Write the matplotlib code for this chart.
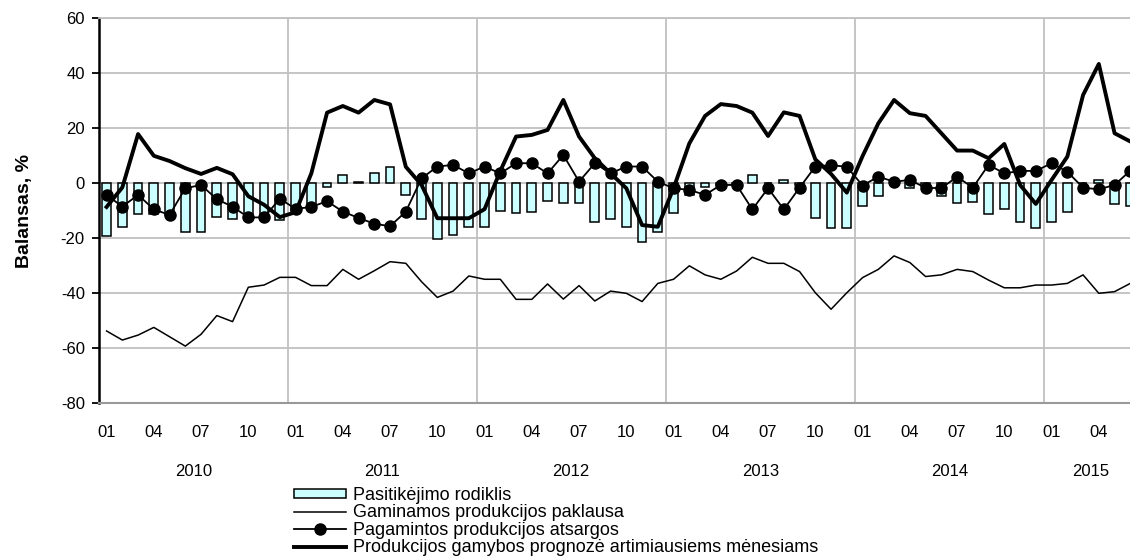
import matplotlib
matplotlib.use('Agg')
import matplotlib.pyplot as plt
import matplotlib.transforms as mtransforms
from matplotlib.lines import Line2D
from matplotlib.patches import Patch
import numpy as np
import pandas as pd

plt.rcParams['font.family'] = ['Liberation Sans', 'DejaVu Sans']
plt.rcParams['axes.unicode_minus'] = False

# monthly categories 2010-01 .. 2015-06
MONTHS = pd.period_range('2010-01', '2015-06', freq='M')
TICK_MONTHS = [1, 4, 7, 10]

# Pasitikėjimo rodiklis (bars)
confidence = [-19, -16, -11, -11, -11.5, -17.6, -17.6, -12.4, -13, -12, -12.5, -13.3,
              -10, -8.5, -1.5, 3, 0.5, 3.6, 5.8, -4.2, -13.1, -20.4, -18.8, -15.9,
              -15.9, -10.1, -10.9, -10.3, -6.6, -7.3, -7.3, -13.9, -13.1, -16, -21.2, -17.6,
              -10.9, -4.2, -1.2, -0.5, -0.5, 3, 0, 1.2, -0.5, -12.7, -16.1, -16.1,
              -8.1, -4.5, 0, -1.8, -1, -4.5, -7.3, -6.7, -11.2, -9.5, -13.9, -16.1,
              -13.9, -10.3, 0, 1.2, -7.5, -8.2]
# Gaminamos produkcijos paklausa (thin line)
demand = [-53.7, -57, -55.2, -52.4, -55.8, -59.2, -54.9, -48.1, -50.3, -37.8, -37, -34.2,
          -34.2, -37.2, -37.2, -31.3, -34.9, -31.8, -28.5, -29.1, -35.8, -41.5, -39.2, -33.7,
          -34.9, -34.9, -42.2, -42.2, -36.6, -42.1, -37.2, -42.8, -39.2, -40, -43, -36.4,
          -34.9, -30, -33.3, -34.9, -31.9, -26.9, -29.1, -29.1, -32.1, -39.8, -45.8, -39.8,
          -34.3, -31.3, -26.4, -28.8, -33.9, -33.3, -31.3, -32.1, -35.2, -38, -38, -37,
          -37, -36.4, -33.3, -40, -39.4, -36.4]
# Pagamintos produkcijos atsargos (line with dots)
stocks = [-4.2, -8.5, -4.2, -9.5, -11.5, -1.8, -0.6, -5.8, -8.5, -12.4, -12.4, -5.6,
          -9.3, -8.6, -6.5, -10.3, -12.6, -14.7, -15.6, -10.3, 1.8, 6.1, 6.7, 3.6,
          6.1, 3.6, 7.3, 7.3, 3.6, 10.3, 0.6, 7.3, 3.6, 6.1, 6.1, 0.6,
          -1.8, -2.4, -4.2, -0.6, -0.6, -9.5, -1.8, -9.5, -1.6, 6.1, 6.6, 6.0,
          -0.8, 2.4, 0.6, 1.2, -1.6, -1.8, 2.4, -1.6, 6.7, 3.6, 4.5, 4.5,
          7.3, 4.2, -1.6, -2.2, -0.6, 4.6]
# Produkcijos gamybos prognozė artimiausiems mėnesiams (thick line)
forecast = [-8.6, -1.5, 17.9, 10, 8.1, 5.5, 3.4, 5.6, 3.3, -4.7, -7.8, -12.3,
            -10.5, 3.6, 25.7, 28.1, 25.7, 30.3, 28.7, 6, -0.6, -12.7, -12.7, -12.7,
            -9.4, 4.5, 17, 17.6, 19.4, 30.3, 17, 9.1, 3.6, -1.8, -15.2, -15.8,
            -1.8, 14.5, 24.5, 28.8, 28.1, 25.7, 17.2, 25.8, 24.5, 8.7, 3.4, -3.4,
            9.9, 21.8, 30.3, 25.5, 24.5, 18.2, 11.9, 11.9, 9.1, 14.3, -0.6, -7.5,
            1.2, 9.7, 32.1, 43.4, 18.2, 15.2]

LABELS = ['Pasitikėjimo rodiklis',
          'Gaminamos produkcijos paklausa',
          'Pagamintos produkcijos atsargos',
          'Produkcijos gamybos prognozė artimiausiems mėnesiams']

W, H = 1130, 558
fig = plt.figure(figsize=(W / 100, H / 100), dpi=100)
# plot area runs past the right edge of the picture, as in the original
ax = fig.add_axes([98.7 / W, 1 - 403.3 / H, 66 * 15.75 / W, 385 / H])

x = np.arange(len(MONTHS))
ax.bar(x, confidence, width=0.55, color='#ccffff', edgecolor='black', linewidth=1.1, zorder=2)
ax.plot(x, demand, color='black', linewidth=1.1, zorder=3)
ax.plot(x, stocks, color='black', linewidth=1.3, marker='o', markersize=8, zorder=4)
ax.plot(x, forecast, color='black', linewidth=2.8, zorder=5)

ax.set_xlim(-0.5, len(MONTHS) - 0.5)
ax.set_ylim(-80, 60)
ax.set_yticks(range(-80, 61, 20))
ax.grid(axis='y', color='#c0c0c0', linewidth=1.3, zorder=0)
for i, p in enumerate(MONTHS):
    if p.month == 1 and i > 0:
        ax.axvline(i - 0.5, color='#c0c0c0', linewidth=1.3, zorder=0)
ax.set_axisbelow(True)

tick_pos = [i for i, p in enumerate(MONTHS) if p.month in TICK_MONTHS]
ax.set_xticks(tick_pos)
ax.set_xticklabels([f'{MONTHS[i].month:02d}' for i in tick_pos], fontsize=12)
ax.tick_params(axis='x', length=0, pad=15.5)
ax.tick_params(axis='y', direction='out', length=5, width=1.3, pad=5, labelsize=12)

ax.spines['left'].set_linewidth(1.8)
ax.spines['bottom'].set_color('#999999')
ax.spines['bottom'].set_linewidth(1.5)
ax.spines['top'].set_color('#c0c0c0')
ax.spines['top'].set_linewidth(1.3)
ax.spines['right'].set_visible(False)

ax.set_ylabel('Balansas, %', fontsize=14, fontweight='bold')
ax.yaxis.set_label_coords(-0.063, 0.5)

# year labels centred under each year's months
trans = mtransforms.blended_transform_factory(ax.transData, fig.transFigure)
for year in sorted(set(p.year for p in MONTHS)):
    idx = [i for i, p in enumerate(MONTHS) if p.year == year]
    ax.text(np.mean(idx), 1 - 472 / H, str(year), transform=trans, ha='center',
            va='center', fontsize=12, clip_on=False)

handles = [Patch(facecolor='#ccffff', edgecolor='black', linewidth=1.1),
           Line2D([], [], color='black', linewidth=1.1),
           Line2D([], [], color='black', linewidth=1.3, marker='o', markersize=8),
           Line2D([], [], color='black', linewidth=2.8)]
leg = fig.legend(handles, LABELS, loc='upper left', bbox_to_anchor=(284 / W, 1 - 477 / H),
                 borderaxespad=0, borderpad=0.55, frameon=True, fontsize=13,
                 handlelength=2.9, handleheight=0.4, handletextpad=0.35, labelspacing=0.02)
leg.get_frame().set_edgecolor('none')
leg.get_frame().set_facecolor('white')
leg.get_frame().set_alpha(1)

fig.savefig('out.png', dpi=100)
